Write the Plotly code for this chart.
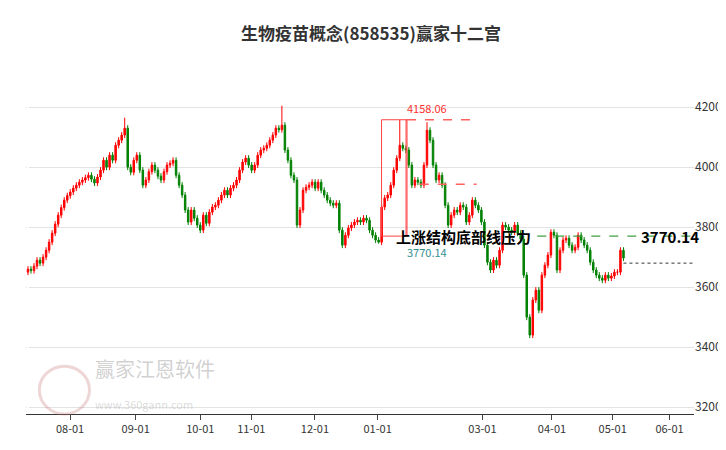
import plotly.graph_objects as go

TITLE = "生物疫苗概念(858535)赢家十二宫"

# 收盘价（按交易日顺序，分段读取）
SEG_A = [3660, 3655, 3670, 3690, 3680, 3700, 3723, 3750, 3780, 3810, 3840, 3865,
         3890, 3905, 3917, 3930, 3940, 3950, 3957, 3965, 3973, 3960, 3947, 3967,
         3990, 4023, 4000, 4040, 4023, 4073, 4090, 4107, 4130]
SEG_B = [4000, 3983, 4023, 4040, 3990, 3940, 3957, 3985, 4007, 3990, 3970, 3957,
         3985, 4007, 4013, 4023, 3973, 3940, 3907, 3857, 3817, 3857, 3830, 3807,
         3790, 3840, 3813, 3850, 3867, 3873, 3890, 3907, 3923, 3907, 3930, 3940,
         3957, 3990, 4017, 4030, 4007, 3990, 4007, 4040, 4057, 4063, 4073, 4090,
         4107, 4130, 4125]
SEG_C = [4140, 4057, 4023, 3973, 3957, 3807, 3857, 3923, 3933, 3940, 3950, 3930,
         3950, 3923, 3907, 3890, 3880, 3873, 3880, 3790, 3740, 3773, 3797, 3807,
         3817, 3823, 3817, 3830, 3823, 3790, 3773, 3757, 3750]
SEG_D = [3867, 3897, 3907, 3940, 3990, 4030, 4073, 4063, 4057, 4007, 3940, 3957,
         3950, 3940, 4007, 4123, 4090, 4007, 3957, 3973, 3940, 3873, 3807, 3840,
         3857, 3850, 3873, 3867, 3817, 3840, 3890, 3873, 3857, 3817, 3740, 3683,
         3657, 3690, 3673, 3723, 3807, 3800, 3790, 3783, 3807, 3780, 3760, 3640,
         3500]
SEG_E = [3440, 3557, 3590, 3523, 3640, 3673, 3707, 3783, 3773, 3657, 3723, 3757,
         3763, 3740, 3723, 3733, 3773, 3757, 3740, 3723, 3683, 3657, 3640, 3630,
         3623, 3640, 3630, 3637, 3650, 3650, 3723, 3697]

CLOSE = SEG_A + SEG_B + SEG_C + SEG_D + SEG_E
OPEN = [3650] + CLOSE[:-1]
HIGH = [max(o, c) + 10 for o, c in zip(OPEN, CLOSE)]
LOW = [min(o, c) - 10 for o, c in zip(OPEN, CLOSE)]

oB = len(SEG_A)
oC = oB + len(SEG_B)
oD = oC + len(SEG_C)
oE = oD + len(SEG_D)
HIGH[oB - 1] = 4165
HIGH[oC] = 4205
HIGH[oD + 6] = 4158.06
HIGH[oD + 15] = 4150
LOW[oD - 1] = 3745
LOW[oE] = 3430

N = len(CLOSE)
TICK_TEXT = ["08-01", "09-01", "10-01", "11-01", "12-01", "01-01", "03-01", "04-01", "05-01", "06-01"]
TICK_PX = [63, 130, 196, 248, 313, 377, 484, 555, 617, 675]

X0_PX, X1_PX = 20, 628
step = (X1_PX - X0_PX) / (N - 1)
xs = list(range(N))
tick_idx = [(p - X0_PX) / step for p in TICK_PX]


def px2i(p):
    return (p - X0_PX) / step


UP, DOWN = "#ff0000", "#008000"
FONT = "Noto Sans CJK SC, sans-serif"

fig = go.Figure()
fig.add_trace(go.Candlestick(
    x=xs, open=OPEN, high=HIGH, low=LOW, close=CLOSE,
    increasing=dict(line=dict(color=UP, width=1), fillcolor=UP),
    decreasing=dict(line=dict(color=DOWN, width=1), fillcolor=DOWN),
    whiskerwidth=0, showlegend=False,
))

# 方框与压力线
fig.add_shape(type="rect", x0=px2i(381), x1=px2i(407), y0=3770.14, y1=4158.06,
              line=dict(color="#ff4040", width=1))
fig.add_shape(type="line", x0=px2i(406), x1=px2i(406), y0=3770.14, y1=4158.06,
              line=dict(color="#ff4040", width=1))
fig.add_shape(type="line", x0=px2i(407), x1=px2i(478), y0=4158.06, y1=4158.06,
              line=dict(color="#ff6060", width=1.5, dash="dash"))
fig.add_shape(type="line", x0=px2i(420), x1=px2i(478), y0=3943, y1=3943,
              line=dict(color="#ff6060", width=1.5, dash="dash"))
fig.add_shape(type="line", x0=px2i(540), x1=px2i(726), y0=3770.14, y1=3770.14,
              line=dict(color="#40a040", width=1.2, dash="dash"))
fig.add_shape(type="line", x0=px2i(628), x1=px2i(700), y0=3680, y1=3680,
              line=dict(color="#333", width=1, dash="dot"))

fig.add_annotation(x=px2i(427), y=4158.06, text="4158.06", showarrow=False, yshift=12,
                   font=dict(color="#ff3030", size=11, family=FONT))
fig.add_annotation(x=px2i(427), y=3770.14, text="3770.14", showarrow=False, yshift=-16,
                   font=dict(color="#309090", size=11, family=FONT))
fig.add_annotation(x=px2i(465), y=3770.14, text="<b>上涨结构底部线压力</b>", showarrow=False,
                   font=dict(color="#000", size=15, family=FONT))
fig.add_annotation(x=px2i(676), y=3770.14, text="<b>3770.14</b>", showarrow=False,
                   font=dict(color="#000", size=15, family=FONT))

# 水印
fig.add_shape(type="circle", xref="paper", yref="paper", x0=0.02, x1=0.095, y0=0.0, y1=0.13,
              line=dict(color="rgba(200,120,120,0.3)", width=3))
fig.add_annotation(xref="paper", yref="paper", x=0.1, y=0.08, text="赢家江恩软件", showarrow=False,
                   xanchor="left", font=dict(color="rgba(150,150,150,0.45)", size=20, family=FONT))
fig.add_annotation(xref="paper", yref="paper", x=0.1, y=0.0, text="www.360gann.com", showarrow=False,
                   xanchor="left", font=dict(color="rgba(150,150,150,0.35)", size=11, family=FONT))

fig.update_xaxes(range=[px2i(18), px2i(700)], tickvals=tick_idx, ticktext=TICK_TEXT,
                 rangeslider_visible=False, showgrid=False, ticks="outside", ticklen=5,
                 showline=True, linecolor="#333", tickfont=dict(size=11, color="#333"))
fig.update_yaxes(range=[3177, 4404], side="right", tickvals=[3200, 3400, 3600, 3800, 4000, 4200],
                 showgrid=True, gridcolor="#e3e3e3", zeroline=False, ticks="",
                 tickfont=dict(size=12, color="#333"))
fig.update_layout(
    title=dict(text="<b>" + TITLE + "</b>", x=0.5, y=0.955, font=dict(size=17, color="#333", family=FONT)),
    width=726, height=450, margin=dict(l=18, r=28, t=38, b=44),
    paper_bgcolor="white", plot_bgcolor="white", font=dict(family=FONT),
)
fig.write_html("out.html")
